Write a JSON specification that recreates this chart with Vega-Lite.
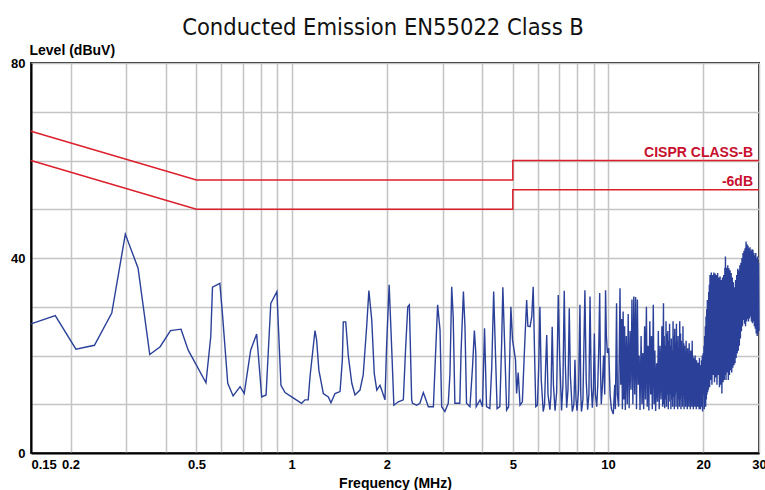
{
  "$schema": "https://vega.github.io/schema/vega-lite/v6.json",
  "width": 728,
  "height": 390,
  "autosize": {"type": "none"},
  "padding": {"left": 31, "top": 63, "right": 6, "bottom": 37},
  "background": "white",
  "title": {
    "text": "Conducted Emission EN55022 Class B",
    "font": "'Liberation Sans Narrow', 'DejaVu Sans Condensed', sans-serif",
    "fontSize": 23.5,
    "fontWeight": "normal",
    "color": "#111111",
    "anchor": "middle",
    "frame": "group",
    "dx": -12,
    "offset": 4
  },
  "config": {
    "view": {"stroke": "#222222", "strokeWidth": 2},
    "font": "Liberation Sans"
  },
  "datasets": {
    "trace": [
      {"f":0.15,"v":26.5},{"f":0.179,"v":28.2},{"f":0.208,"v":21.3},{"f":0.238,"v":22.1},{"f":0.27,"v":28.7},{"f":0.298,"v":44.9},{"f":0.327,"v":37.9},{"f":0.356,"v":20.2},{"f":0.384,"v":21.8},{"f":0.414,"v":25.1},{"f":0.447,"v":25.4},{"f":0.471,"v":21.1},{"f":0.536,"v":14.4},{"f":0.555,"v":23.9},{"f":0.562,"v":34.0},{"f":0.593,"v":34.8},{"f":0.604,"v":28.7},{"f":0.628,"v":14.3},{"f":0.653,"v":11.7},{"f":0.687,"v":13.6},{"f":0.708,"v":12.2},{"f":0.742,"v":21.1},{"f":0.775,"v":24.4},{"f":0.804,"v":11.5},{"f":0.83,"v":11.9},{"f":0.859,"v":30.7},{"f":0.898,"v":33.1},{"f":0.925,"v":13.9},{"f":0.953,"v":12.4},{"f":1.0,"v":11.5},{"f":1.057,"v":10.5},{"f":1.075,"v":10.2},{"f":1.102,"v":10.9},{"f":1.128,"v":10.9},{"f":1.143,"v":15.7},{"f":1.185,"v":25.1},{"f":1.199,"v":23.2},{"f":1.219,"v":17.0},{"f":1.259,"v":12.2},{"f":1.306,"v":11.5},{"f":1.331,"v":10.3},{"f":1.371,"v":12.2},{"f":1.422,"v":12.6},{"f":1.446,"v":19.1},{"f":1.456,"v":26.9},{"f":1.482,"v":26.9},{"f":1.511,"v":19.8},{"f":1.549,"v":14.3},{"f":1.585,"v":11.9},{"f":1.644,"v":12.9},{"f":1.683,"v":16.0},{"f":1.726,"v":25.9},{"f":1.754,"v":33.3},{"f":1.791,"v":27.3},{"f":1.824,"v":16.3},{"f":1.858,"v":12.9},{"f":1.902,"v":13.9},{"f":1.933,"v":12.6},{"f":1.972,"v":10.9},{"f":1.995,"v":21.8},{"f":2.033,"v":34.5},{"f":2.07,"v":21.8},{"f":2.104,"v":9.8},{"f":2.173,"v":10.5},{"f":2.254,"v":10.9},{"f":2.293,"v":21.8},{"f":2.328,"v":30.0},{"f":2.355,"v":30.4},{"f":2.395,"v":10.9},
      {"f":2.41,"v":10.2},{"f":2.484,"v":9.8},{"f":2.543,"v":10.2},{"f":2.607,"v":12.4},{"f":2.638,"v":11.5},{"f":2.704,"v":9.5},{"f":2.805,"v":9.5},{"f":2.86,"v":22.8},{"f":2.893,"v":30.4},{"f":2.944,"v":25.2},{"f":2.979,"v":9.5},{"f":3.05,"v":8.5},{"f":3.126,"v":10.2},{"f":3.165,"v":16.3},{"f":3.205,"v":34.1},{"f":3.24,"v":28.0},{"f":3.28,"v":10.2},{"f":3.4,"v":10.2},{"f":3.43,"v":20.5},{"f":3.49,"v":33.1},{"f":3.53,"v":25.9},{"f":3.57,"v":10.2},{"f":3.66,"v":9.5},{"f":3.73,"v":17.7},{"f":3.78,"v":25.1},{"f":3.82,"v":20.5},{"f":3.83,"v":9.5},{"f":3.94,"v":10.9},{"f":4.01,"v":9.5},{"f":4.07,"v":25.6},{"f":4.13,"v":9.5},{"f":4.23,"v":9.1},{"f":4.29,"v":17.7},{"f":4.35,"v":33.1},{"f":4.41,"v":19.8},{"f":4.46,"v":9.1},{"f":4.55,"v":9.5},{"f":4.61,"v":22.5},{"f":4.65,"v":34.0},{"f":4.71,"v":22.5},{"f":4.78,"v":8.8},{"f":4.85,"v":9.5},{"f":4.93,"v":30.0},{"f":4.99,"v":23.2},{"f":5.1,"v":19.1},{"f":5.14,"v":12.2},
      {"f":5.2,"v":16.5},{"f":5.27,"v":9.8},{"f":5.36,"v":10.5},{"f":5.45,"v":22.0},{"f":5.53,"v":31.4},{"f":5.58,"v":26.0},{"f":5.67,"v":25.9},{"f":5.74,"v":28.0},{"f":5.8,"v":34.1},{"f":5.86,"v":20.0},{"f":5.91,"v":9.5},{"f":5.98,"v":9.8},{"f":6.04,"v":18.0},{"f":6.09,"v":30.0},{"f":6.15,"v":15.0},{"f":6.24,"v":8.5},{"f":6.3,"v":10.0},{"f":6.35,"v":18.0},{"f":6.4,"v":24.2},{"f":6.46,"v":12.0},{"f":6.55,"v":8.9},{"f":6.6,"v":12.0},{"f":6.66,"v":25.9},{"f":6.72,"v":14.0},{"f":6.8,"v":8.7},{"f":6.88,"v":12.5},{"f":6.96,"v":32.4},{"f":7.03,"v":20.0},{"f":7.13,"v":8.7},{"f":7.2,"v":14.0},{"f":7.27,"v":33.3},{"f":7.33,"v":18.0},{"f":7.4,"v":9.3},{"f":7.47,"v":13.0},{"f":7.54,"v":29.7},{"f":7.6,"v":16.0},{"f":7.71,"v":8.5},{"f":7.8,"v":10.0},{"f":7.86,"v":19.1},{"f":7.92,"v":11.0},{"f":7.98,"v":8.7},{"f":8.07,"v":13.0},{"f":8.15,"v":30.4},{"f":8.2,"v":12.0},{"f":8.24,"v":8.5},{"f":8.33,"v":11.0},{"f":8.45,"v":33.4},{"f":8.53,"v":15.0},{"f":8.62,"v":8.9},{"f":8.7,"v":12.0},{"f":8.77,"v":32.1},{"f":8.85,"v":14.0},{"f":8.92,"v":9.3},{"f":8.99,"v":13.0},{"f":9.05,"v":24.5},{"f":9.12,"v":12.0},{"f":9.21,"v":9.5},{"f":9.28,"v":14.0},{"f":9.35,"v":22.0},{"f":9.41,"v":32.8},{"f":9.46,"v":18.0},{"f":9.52,"v":10.0},{"f":9.6,"v":14.0},{"f":9.68,"v":20.0},{"f":9.76,"v":12.0},{"f":9.82,"v":33.4},{"f":9.88,"v":24.0},{"f":9.95,"v":20.5},{"f":10.05,"v":21.5},{"f":10.15,"v":12.0},{"f":10.25,"v":9.0},
      {"f":10.39,"v":8.0},{"f":10.5,"v":14.0},{"f":10.55,"v":9.0},{"f":10.64,"v":30.7},{"f":10.7,"v":12.0},{"f":10.8,"v":9.5},{"f":10.91,"v":33.8},{"f":10.97,"v":14.0},{"f":11.04,"v":27.5},{"f":11.1,"v":9.0},{"f":11.16,"v":29.0},{"f":11.22,"v":11.0},{"f":11.28,"v":26.0},{"f":11.34,"v":8.8},{"f":11.42,"v":24.0},{"f":11.5,"v":10.0},{"f":11.58,"v":28.5},{"f":11.66,"v":9.2},{"f":11.74,"v":25.0},{"f":11.82,"v":13.0},{"f":11.9,"v":31.5},{"f":11.98,"v":10.0},{"f":12.06,"v":32.1},{"f":12.14,"v":12.0},{"f":12.22,"v":32.0},{"f":12.3,"v":9.0},{"f":12.38,"v":31.5},{"f":12.46,"v":14.0},{"f":12.54,"v":20.0},{"f":12.62,"v":8.8},{"f":12.72,"v":24.0},{"f":12.8,"v":10.0},{"f":12.88,"v":20.5},{"f":12.96,"v":9.0},{"f":13.05,"v":26.0},{"f":13.13,"v":11.0},{"f":13.22,"v":30.0},{"f":13.3,"v":9.5},{"f":13.38,"v":22.0},{"f":13.46,"v":8.7},{"f":13.55,"v":27.0},{"f":13.64,"v":12.0},{"f":13.72,"v":24.0},{"f":13.8,"v":9.0},{"f":13.9,"v":30.4},{"f":13.98,"v":10.0},{"f":14.06,"v":21.0},{"f":14.14,"v":8.6},{"f":14.24,"v":18.4},{"f":14.33,"v":10.5},{"f":14.42,"v":25.0},{"f":14.51,"v":9.0},{"f":14.6,"v":22.0},{"f":14.7,"v":11.0},{"f":14.8,"v":26.0},{"f":14.88,"v":9.5},{"f":14.97,"v":30.7},
      {"f":15.0,"v":10.0},{"f":15.05,"v":24.0},{"f":15.1,"v":9.2},{"f":15.15,"v":22.0},{"f":15.2,"v":11.0},{"f":15.25,"v":27.0},{"f":15.3,"v":9.5},{"f":15.35,"v":24.5},{"f":15.4,"v":12.0},{"f":15.45,"v":25.0},{"f":15.5,"v":9.0},{"f":15.55,"v":23.0},{"f":15.6,"v":10.5},{"f":15.65,"v":26.5},{"f":15.7,"v":12.0},{"f":15.75,"v":22.0},{"f":15.8,"v":9.0},{"f":15.85,"v":23.5},{"f":15.9,"v":11.0},{"f":15.95,"v":21.0},{"f":16.0,"v":9.5},{"f":16.05,"v":27.0},{"f":16.1,"v":11.5},{"f":16.15,"v":24.0},{"f":16.2,"v":9.0},{"f":16.25,"v":25.5},{"f":16.3,"v":12.0},{"f":16.35,"v":22.5},{"f":16.4,"v":9.5},{"f":16.45,"v":26.5},{"f":16.5,"v":12.5},{"f":16.55,"v":23.0},{"f":16.6,"v":9.0},{"f":16.65,"v":24.0},{"f":16.7,"v":11.0},{"f":16.75,"v":21.5},{"f":16.8,"v":9.5},{"f":16.85,"v":27.0},{"f":16.9,"v":11.0},{"f":16.95,"v":24.5},{"f":17.0,"v":9.0},{"f":17.05,"v":23.0},{"f":17.1,"v":12.0},{"f":17.15,"v":21.0},{"f":17.2,"v":9.5},{"f":17.25,"v":26.0},{"f":17.3,"v":12.0},{"f":17.35,"v":22.5},{"f":17.4,"v":9.0},{"f":17.45,"v":22.0},{"f":17.5,"v":11.0},{"f":17.55,"v":20.0},{"f":17.6,"v":9.5},{"f":17.65,"v":23.0},{"f":17.7,"v":11.0},{"f":17.75,"v":21.0},{"f":17.8,"v":9.0},{"f":17.85,"v":21.5},{"f":17.9,"v":12.0},{"f":17.95,"v":20.0},{"f":18.0,"v":9.5},{"f":18.05,"v":22.5},{"f":18.1,"v":12.0},{"f":18.15,"v":20.5},{"f":18.2,"v":9.0},{"f":18.25,"v":21.0},{"f":18.3,"v":11.5},{"f":18.35,"v":19.5},{"f":18.4,"v":9.5},{"f":18.45,"v":23.0},{"f":18.5,"v":11.0},{"f":18.55,"v":20.0},{"f":18.6,"v":9.0},{"f":18.65,"v":19.5},{"f":18.7,"v":12.0},{"f":18.75,"v":18.5},{"f":18.8,"v":9.5},{"f":18.85,"v":20.0},{"f":18.9,"v":12.5},{"f":18.95,"v":18.0},{"f":19.0,"v":9.0},{"f":19.05,"v":19.0},{"f":19.1,"v":11.0},{"f":19.15,"v":17.5},{"f":19.2,"v":9.5},{"f":19.25,"v":18.5},{"f":19.3,"v":11.0},{"f":19.35,"v":18.0},{"f":19.4,"v":9.0},{"f":19.45,"v":19.5},{"f":19.5,"v":12.0},{"f":19.55,"v":17.0},{"f":19.6,"v":9.0},{"f":19.65,"v":18.0},{"f":19.7,"v":12.0},{"f":19.75,"v":19.0},{"f":19.8,"v":9.5},{"f":19.85,"v":20.0},{"f":19.9,"v":8.5},{"f":19.95,"v":19.0},{"f":20.0,"v":20.5},
      {"f":20.05,"v":12.0},{"f":20.1,"v":22.0},{"f":20.15,"v":9.0},{"f":20.2,"v":24.0},{"f":20.25,"v":10.5},{"f":20.3,"v":26.0},{"f":20.35,"v":9.5},{"f":20.4,"v":28.0},{"f":20.45,"v":11.0},{"f":20.5,"v":29.5},{"f":20.55,"v":12.0},{"f":20.6,"v":31.4},{"f":20.65,"v":12.5},{"f":20.7,"v":30.0},{"f":20.75,"v":13.0},{"f":20.8,"v":33.0},{"f":20.85,"v":14.0},{"f":20.9,"v":34.5},{"f":20.95,"v":13.5},{"f":21.0,"v":36.5},
      {"f":21.1,"v":15.0},{"f":21.2,"v":37.0},{"f":21.3,"v":14.0},{"f":21.4,"v":36.5},{"f":21.5,"v":16.0},{"f":21.6,"v":37.0},{"f":21.7,"v":14.5},{"f":21.8,"v":36.8},{"f":21.9,"v":15.5},{"f":22.0,"v":36.5},{"f":22.1,"v":14.0},{"f":22.2,"v":36.9},{"f":22.3,"v":16.0},{"f":22.4,"v":36.0},{"f":22.5,"v":13.5},{"f":22.6,"v":36.2},{"f":22.7,"v":14.0},{"f":22.8,"v":35.5},{"f":22.9,"v":12.2},{"f":23.0,"v":36.0},{"f":23.1,"v":14.5},{"f":23.2,"v":36.5},{"f":23.3,"v":15.0},{"f":23.4,"v":38.0},{"f":23.45,"v":16.0},{"f":23.5,"v":40.3},{"f":23.6,"v":15.0},{"f":23.7,"v":38.0},{"f":23.8,"v":16.5},{"f":23.9,"v":38.5},{"f":24.0,"v":15.0},{"f":24.1,"v":37.9},{"f":24.2,"v":16.0},{"f":24.3,"v":37.5},{"f":24.4,"v":17.0},{"f":24.5,"v":36.9},{"f":24.6,"v":16.5},{"f":24.7,"v":36.0},{"f":24.8,"v":17.5},{"f":24.9,"v":35.0},{"f":25.0,"v":18.0},{"f":25.1,"v":34.0},{"f":25.2,"v":18.4},{"f":25.3,"v":35.5},{"f":25.4,"v":19.5},{"f":25.5,"v":36.5},{"f":25.6,"v":20.4},{"f":25.7,"v":37.8},{"f":25.8,"v":21.0},{"f":25.9,"v":37.5},{"f":26.0,"v":22.0},{"f":26.1,"v":38.5},{"f":26.2,"v":23.5},{"f":26.3,"v":39.0},{"f":26.4,"v":25.0},{"f":26.5,"v":40.0},{"f":26.6,"v":26.0},{"f":26.7,"v":41.0},{"f":26.8,"v":27.3},{"f":26.9,"v":41.5},{"f":27.0,"v":26.5},{"f":27.1,"v":42.0},{"f":27.2,"v":26.0},{"f":27.3,"v":43.4},{"f":27.4,"v":27.0},{"f":27.5,"v":42.8},{"f":27.6,"v":27.5},{"f":27.7,"v":42.5},{"f":27.8,"v":27.0},{"f":27.9,"v":42.0},{"f":28.0,"v":27.6},{"f":28.1,"v":42.2},{"f":28.2,"v":28.0},{"f":28.3,"v":41.5},{"f":28.4,"v":27.0},{"f":28.5,"v":41.8},{"f":28.6,"v":26.6},{"f":28.7,"v":41.7},{"f":28.8,"v":27.0},{"f":28.9,"v":41.0},{"f":29.0,"v":26.0},{"f":29.1,"v":40.5},{"f":29.2,"v":25.5},{"f":29.3,"v":41.0},{"f":29.4,"v":24.5},{"f":29.5,"v":40.0},{"f":29.6,"v":24.0},{"f":29.7,"v":40.3},{"f":29.8,"v":24.5},{"f":29.9,"v":39.0},{"f":30.0,"v":25.0}
    ],
    "limits": [
      {"s":"qp","i":0,"f":0.15,"v":66},{"s":"qp","i":1,"f":0.5,"v":56},{"s":"qp","i":2,"f":5,"v":56},{"s":"qp","i":3,"f":5,"v":60},{"s":"qp","i":4,"f":30,"v":60},
      {"s":"m6","i":0,"f":0.15,"v":60},{"s":"m6","i":1,"f":0.5,"v":50},{"s":"m6","i":2,"f":5,"v":50},{"s":"m6","i":3,"f":5,"v":54},{"s":"m6","i":4,"f":30,"v":54}
    ],
    "labels": [
      {"f":30,"v":60,"t":"CISPR CLASS-B"},
      {"f":30,"v":54,"t":"-6dB"}
    ]
  },
  "encoding": {
    "x": {
      "field": "f",
      "type": "quantitative",
      "scale": {"type": "log", "domain": [0.15, 30], "nice": false, "zero": false},
      "axis": {
        "values": [0.15,0.2,0.3,0.4,0.5,0.6,0.7,0.8,0.9,1,2,3,4,5,6,7,8,9,10,20,30],
        "labelExpr": "(datum.value == 0.15 || datum.value == 0.2 || datum.value == 0.5 || datum.value == 1 || datum.value == 2 || datum.value == 5 || datum.value == 10 || datum.value == 20 || datum.value == 30) ? '' + datum.value : ''",
        "labelAlign": {"condition": {"test": "datum.value == 0.15", "value": "left"}, "value": "center"},
        "labelFont": "Liberation Sans",
        "labelFontSize": 13,
        "labelFontWeight": "bold",
        "labelColor": "#000000",
        "labelPadding": 5,
        "labelOverlap": false,
        "labelFlush": false,
        "ticks": false,
        "domain": true,
        "domainColor": "#000000",
        "domainWidth": 2,
        "grid": true,
        "gridColor": "#c4c4c4",
        "gridWidth": 1.5,
        "title": "Frequency (MHz)",
        "titleFont": "Liberation Sans",
        "titleFontSize": 14,
        "titleFontWeight": "bold",
        "titleColor": "#000000",
        "titleBaseline": "alphabetic",
        "titleY": 34
      }
    },
    "y": {
      "field": "v",
      "type": "quantitative",
      "scale": {"domain": [0, 80], "nice": false},
      "axis": {
        "values": [0,10,20,30,40,50,60,70,80],
        "labelExpr": "datum.value % 40 == 0 ? '' + datum.value : ''",
        "labelFont": "Liberation Sans",
        "labelFontSize": 13,
        "labelFontWeight": "bold",
        "labelColor": "#000000",
        "labelPadding": 6,
        "ticks": false,
        "domain": true,
        "domainColor": "#000000",
        "domainWidth": 2,
        "grid": true,
        "gridColor": "#c4c4c4",
        "gridWidth": 1.5,
        "title": "Level (dBuV)",
        "titleFont": "Liberation Sans",
        "titleFontSize": 14,
        "titleFontWeight": "bold",
        "titleColor": "#000000",
        "titleAngle": 0,
        "titleAlign": "left",
        "titleBaseline": "alphabetic",
        "titleX": -2,
        "titleY": -9
      }
    }
  },
  "layer": [
    {
      "data": {"name": "trace"},
      "mark": {"type": "line", "color": "#2b4199", "strokeWidth": 1.4, "interpolate": "linear"}
    },
    {
      "data": {"name": "limits"},
      "mark": {"type": "line", "color": "#dc1f2b", "strokeWidth": 1.5},
      "encoding": {
        "detail": {"field": "s"},
        "order": {"field": "i", "type": "quantitative"}
      }
    },
    {
      "data": {"name": "labels"},
      "mark": {"type": "text", "align": "right", "baseline": "alphabetic", "dx": -6, "dy": -4, "font": "Liberation Sans", "fontSize": 14, "fontWeight": "bold", "color": "#c8102e"},
      "encoding": {
        "text": {"field": "t"}
      }
    }
  ]
}
